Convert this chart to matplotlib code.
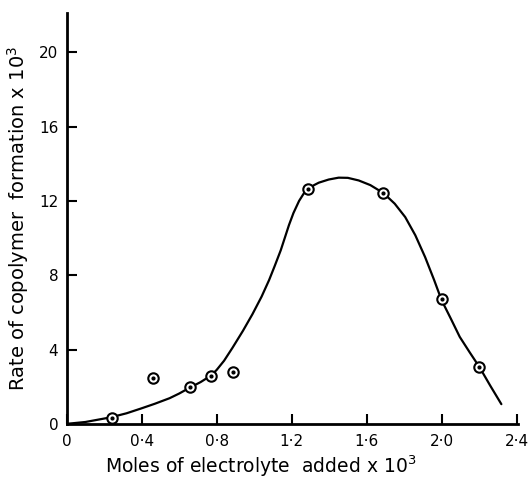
import matplotlib
matplotlib.use("Agg")
import matplotlib.pyplot as plt

# measured points (moles x 10^3, rate x 10^3)
pts_x = [0.24, 0.46, 0.66, 0.77, 0.885, 1.29, 1.69, 2.0, 2.2]
pts_y = [0.33, 2.45, 1.97, 2.6, 2.8, 12.65, 12.45, 6.7, 3.05]

# hand drawn fitted curve
curve_x = [0.0, 0.1, 0.235, 0.32, 0.398, 0.47, 0.549, 0.60, 0.659, 0.715, 0.770, 0.80,
           0.84, 0.885, 0.94, 0.991, 1.04, 1.080, 1.11, 1.142, 1.165, 1.186, 1.21,
           1.24, 1.265, 1.29, 1.32, 1.345, 1.398, 1.451, 1.50, 1.558, 1.62, 1.690,
           1.75, 1.806, 1.86, 1.912, 1.96, 2.0, 2.05, 2.097, 2.15, 2.203, 2.26, 2.319]
curve_y = [0.0, 0.1, 0.35, 0.57, 0.83, 1.08, 1.38, 1.63, 1.96, 2.25, 2.6, 2.9,
           3.4, 4.1, 5.0, 5.9, 6.85, 7.74, 8.5, 9.34, 10.05, 10.7, 11.35,
           12.0, 12.4, 12.66, 12.85, 12.98, 13.15, 13.25, 13.24, 13.1, 12.85, 12.42,
           11.85, 11.13, 10.15, 8.98, 7.75, 6.66, 5.65, 4.68, 3.85, 3.04, 2.05, 1.06]

xticks = [0, 0.4, 0.8, 1.2, 1.6, 2.0, 2.4]
xtick_labels = ["0", "0\u00b74", "0\u00b78", "1\u00b72", "1\u00b76", "2\u00b70", "2\u00b74"]
yticks = [0, 4, 8, 12, 16, 20]
ytick_labels = ["0", "4", "8", "12", "16", "20"]

fig = plt.figure(figsize=(5.29, 4.90), dpi=100)
ax = fig.add_axes([0.126, 0.135, 0.854, 0.838])

ax.plot(curve_x, curve_y, color="black", lw=1.6, solid_capstyle="round",
        solid_joinstyle="round")
ax.plot(pts_x, pts_y, ls="none", marker="o", ms=7.5, mfc="white", mec="black", mew=1.5)
ax.plot(pts_x, pts_y, ls="none", marker="o", ms=2, mfc="black", mec="black")

ax.set_xlim(0, 2.41)
ax.set_ylim(0, 22.1)
ax.set_xticks(xticks)
ax.set_xticklabels(xtick_labels)
ax.set_yticks(yticks)
ax.set_yticklabels(ytick_labels)

for s in ["top", "right"]:
    ax.spines[s].set_visible(False)
for s in ["left", "bottom"]:
    ax.spines[s].set_linewidth(2)

ax.tick_params(direction="in", length=7, width=1.5, labelsize=11, pad=6)
ax.tick_params(axis="x", pad=7)

ax.set_xlabel("Moles of electrolyte  added x 10$^{3}$", fontsize=13.5)
ax.xaxis.set_label_coords(0.43, -0.072)
ax.set_ylabel("Rate of copolymer  formation x 10$^{3}$", fontsize=14)
ax.yaxis.set_label_coords(-0.08, 0.5)

fig.savefig("out.png", dpi=100)
